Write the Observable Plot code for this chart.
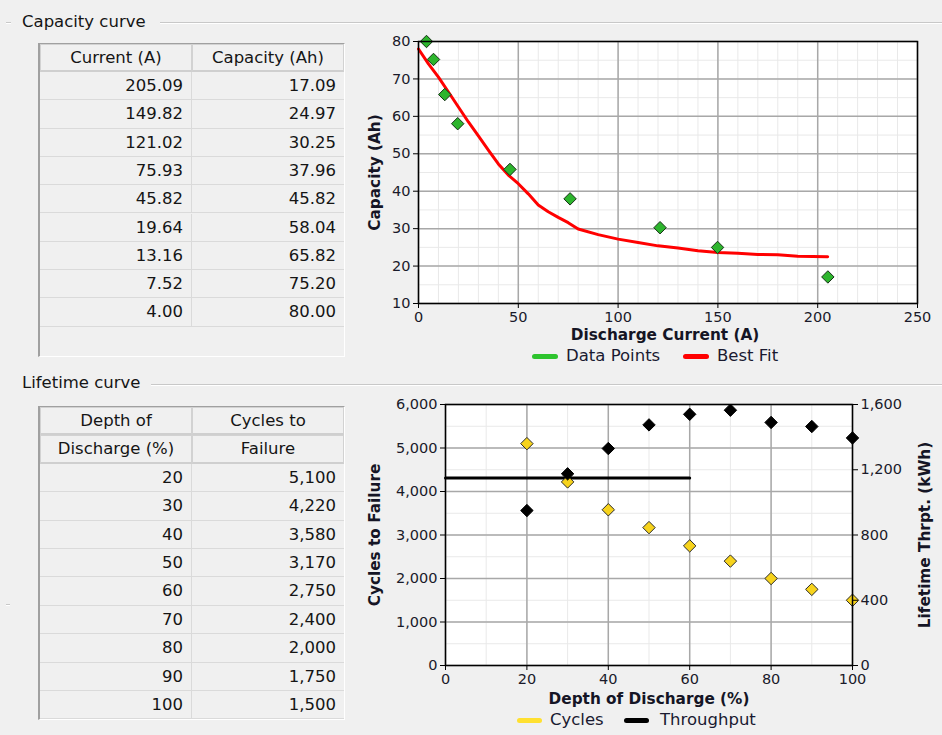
<!DOCTYPE html>
<html><head><meta charset="utf-8">
<script src="https://cdn.jsdelivr.net/npm/d3@7"></script>
<script src="https://cdn.jsdelivr.net/npm/@observablehq/plot@0.6"></script>
<style>
body{margin:0;background:#f0f0f0;}
#root{position:relative;width:942px;height:735px;overflow:hidden;font-family:"DejaVu Sans",sans-serif;color:#151515;}
.title{position:absolute;font-size:16.5px;line-height:20px;white-space:nowrap;}
.gline{position:absolute;height:0;border-top:1px solid #c8c8c8;border-bottom:1px solid #ffffff;}
.tbl{position:absolute;box-sizing:border-box;border-left:2px solid #a0a0a0;border-top:1px solid #a0a0a0;border-right:1px solid #ffffff;border-bottom:1px solid #ffffff;background:#f0f0f0;}
.cell{position:absolute;box-sizing:border-box;font-size:16.5px;white-space:nowrap;}
.hcell{text-align:center;border:1px solid #d2d2d2;border-bottom:2px solid #cfcfcf;background:#f0f0f0;}
.dcell{text-align:right;padding-right:8px;border-bottom:1px solid #dadada;}
.leg{position:absolute;font-size:16.5px;line-height:20px;white-space:nowrap;color:#1a1a30;}
.sw{position:absolute;height:5px;border-radius:3px;}
svg{position:absolute;overflow:visible;}
</style></head><body><div id="root"></div>
<script>
// ---- Capacity curve data ----
const currentA = [205.09, 149.82, 121.02, 75.93, 45.82, 19.64, 13.16, 7.52, 4.00];
const capacityAh = [17.09, 24.97, 30.25, 37.96, 45.82, 58.04, 65.82, 75.20, 80.00];
// best-fit curve
const fitCurrent = [0, 5, 10, 15, 20, 25, 30, 35, 40, 45, 50, 55, 60, 65, 70, 75, 80, 90, 100, 110, 120, 130, 140, 150, 160, 170, 180, 190, 205];
const fitCapacity = [78, 74, 70.5, 66.5, 62.5, 58.5, 54.8, 51, 47.3, 44.3, 42, 39.3, 36.3, 34.5, 33, 31.6, 29.9, 28.4, 27.2, 26.3, 25.4, 24.8, 24.1, 23.6, 23.4, 23.1, 23, 22.6, 22.5];
// ---- Lifetime curve data ----
const dodPct = [20, 30, 40, 50, 60, 70, 80, 90, 100];
const cyclesToFailure = [5100, 4220, 3580, 3170, 2750, 2400, 2000, 1750, 1500];
const throughputKWh = [950, 1175, 1330, 1475, 1540, 1565, 1490, 1465, 1395];
const refLineDod = [0, 60];
const refLineCycles = [4310, 4310];
// tick labels
const capXTicks = [0, 50, 100, 150, 200, 250];
const capYTicks = [10, 20, 30, 40, 50, 60, 70, 80];
const lifeXTicks = [0, 20, 40, 60, 80, 100];
const lifeYTicks = [0, 1000, 2000, 3000, 4000, 5000, 6000];
const lifeY2Ticks = [0, 400, 800, 1200, 1600];

const root = document.getElementById("root");
function el(cls, style, text) {
  const d = document.createElement("div");
  d.className = cls;
  Object.assign(d.style, style);
  if (text != null) d.textContent = text;
  root.appendChild(d);
  return d;
}

// group boxes
el("title", {left: "22px", top: "12px"}, "Capacity curve");
el("gline", {left: "160px", top: "22px", width: "782px"});
el("gline", {left: "6px", top: "22px", width: "5px"});
el("title", {left: "22px", top: "373px"}, "Lifetime curve");
el("gline", {left: "151px", top: "384px", width: "791px"});
el("gline", {left: "6px", top: "604px", width: "4px"});

// tables
function makeTable(left, top, height, headers, headRowH, col1, col2, rowH) {
  const t = el("tbl", {left: left + "px", top: top + "px", width: "307px", height: height + "px"});
  const w1 = 152, w2 = 152;
  headers.forEach((h, r) => {
    [h[0], h[1]].forEach((txt, c) => {
      const d = document.createElement("div");
      d.className = "cell hcell";
      Object.assign(d.style, {left: (c ? w1 : 0) + "px", top: (r * headRowH) + "px", width: (c ? w2 : w1) + "px", height: headRowH + "px", lineHeight: (headRowH - 3) + "px"});
      d.textContent = txt;
      t.appendChild(d);
    });
  });
  const y0 = headers.length * headRowH;
  col1.forEach((v, i) => {
    [v, col2[i]].forEach((txt, c) => {
      const d = document.createElement("div");
      d.className = "cell dcell";
      Object.assign(d.style, {left: (c ? w1 : 0) + "px", top: (y0 + i * rowH) + "px", width: (c ? w2 : w1) + "px", height: rowH + "px", lineHeight: (rowH - 1) + "px", borderRight: c ? "none" : "1px solid #dadada"});
      d.textContent = txt;
      t.appendChild(d);
    });
  });
}
const fmt2 = d3.format(".2f"), fmtC = d3.format(",");
makeTable(38, 43, 314, [["Current (A)", "Capacity (Ah)"]], 28, currentA.map(fmt2), capacityAh.map(fmt2), 28.3);
makeTable(38, 406, 314, [["Depth of", "Cycles to"], ["Discharge (%)", "Failure"]], 28.4, dodPct.map(String), cyclesToFailure.map(fmtC), 28.4);

const baseStyle = {background: "transparent", fontFamily: "DejaVu Sans", fontSize: "14.5px", color: "#1a1a2a", overflow: "visible"};
const minorC = "#e9e9e9", majorC = "#a8a8a8";
const labelOpts = {text: d => d, fontWeight: "bold", fontSize: 15.3, fill: "#151525", textAnchor: "middle", lineAnchor: "middle"};

// chart 1
const capData = currentA.map((c, i) => ({current: c, capacity: capacityAh[i]}));
const fitData = fitCurrent.map((c, i) => ({current: c, capacity: fitCapacity[i]}));
const c1 = Plot.plot({
  width: 580, height: 320, marginLeft: 58, marginRight: 23, marginTop: 13, marginBottom: 45,
  style: baseStyle,
  x: {domain: [0, 250]},
  y: {domain: [10, 80]},
  marks: [
    Plot.frame({fill: "white", stroke: null}),
    Plot.gridX(d3.range(0, 251, 10), {stroke: minorC, strokeOpacity: 1}),
    Plot.gridY(d3.range(10, 81, 5), {stroke: minorC, strokeOpacity: 1}),
    Plot.gridX(capXTicks, {stroke: majorC, strokeOpacity: 1, strokeWidth: 1.5}),
    Plot.gridY(capYTicks, {stroke: majorC, strokeOpacity: 1, strokeWidth: 1.5}),
    Plot.line(fitData, {x: "current", y: "capacity", stroke: "#ff0000", strokeWidth: 3}),
    Plot.dot(capData, {x: "current", y: "capacity", symbol: "diamond2", r: 5.6, fill: "#2db52d", stroke: "#163016", strokeWidth: 1}),
    Plot.frame({stroke: "black", strokeWidth: 1.5}),
    Plot.axisX(capXTicks, {tickSize: 5, tickPadding: 3, label: null, stroke: "black"}),
    Plot.axisY(capYTicks, {tickSize: 5, tickPadding: 3, label: null, stroke: "black"}),
    Plot.text(["Discharge Current (A)"], {...labelOpts, frameAnchor: "bottom", dy: 32, dx: -3}),
    Plot.text(["Capacity (Ah)"], {...labelOpts, frameAnchor: "left", rotate: -90, dx: -43})
  ]
});
Object.assign(c1.style, {left: "360px", top: "28px"});
root.appendChild(c1);

// chart 2
const k = 6000 / 1600;
const lifeData = dodPct.map((d, i) => ({dod: d, cycles: cyclesToFailure[i], thr: throughputKWh[i]}));
const refData = refLineDod.map((d, i) => ({dod: d, cycles: refLineCycles[i]}));
const c2 = Plot.plot({
  width: 580, height: 320, marginLeft: 85, marginRight: 88, marginTop: 12, marginBottom: 47,
  style: baseStyle,
  x: {domain: [0, 100]},
  y: {domain: [0, 6000]},
  marks: [
    Plot.frame({fill: "white", stroke: null}),
    Plot.gridX(d3.range(0, 101, 10), {stroke: minorC, strokeOpacity: 1}),
    Plot.gridY(d3.range(0, 6001, 500), {stroke: minorC, strokeOpacity: 1}),
    Plot.gridX(lifeXTicks, {stroke: majorC, strokeOpacity: 1, strokeWidth: 1.5}),
    Plot.gridY(lifeYTicks, {stroke: majorC, strokeOpacity: 1, strokeWidth: 1.5}),
    Plot.line(refData, {x: "dod", y: "cycles", stroke: "black", strokeWidth: 3}),
    Plot.dot(lifeData, {x: "dod", y: "cycles", symbol: "diamond2", r: 5.6, fill: "#f7d31c", stroke: "#2a2a2a", strokeWidth: 1}),
    Plot.dot(lifeData, {x: "dod", y: d => d.thr * k, symbol: "diamond2", r: 5.6, fill: "black", stroke: "black", strokeWidth: 1}),
    Plot.frame({stroke: "black", strokeWidth: 1.5}),
    Plot.axisX(lifeXTicks, {tickSize: 5, tickPadding: 3, label: null, stroke: "black"}),
    Plot.axisY(lifeYTicks, {tickSize: 5, tickPadding: 3, label: null, stroke: "black", tickFormat: fmtC}),
    Plot.axisY(lifeY2Ticks.map(v => v * k), {anchor: "right", tickSize: 5, tickPadding: 3, label: null, stroke: "black", tickFormat: v => fmtC(Math.round(v / k))}),
    Plot.text(["Depth of Discharge (%)"], {...labelOpts, frameAnchor: "bottom", dy: 34}),
    Plot.text(["Cycles to Failure"], {...labelOpts, frameAnchor: "left", rotate: -90, dx: -70}),
    Plot.text(["Lifetime Thrpt. (kWh)"], {...labelOpts, frameAnchor: "right", rotate: -90, dx: 73})
  ]
});
Object.assign(c2.style, {left: "360px", top: "392px"});
root.appendChild(c2);

// legends
el("sw", {left: "532px", top: "354px", width: "26px", background: "#2ec42e"});
el("leg", {left: "566px", top: "346px"}, "Data Points");
el("sw", {left: "683px", top: "354px", width: "26px", background: "#ff0000"});
el("leg", {left: "717px", top: "346px"}, "Best Fit");
el("sw", {left: "517px", top: "718px", width: "25px", background: "#ffe030"});
el("leg", {left: "550px", top: "710px"}, "Cycles");
el("sw", {left: "624px", top: "718px", width: "25px", background: "#000000"});
el("leg", {left: "660px", top: "710px"}, "Throughput");
</script></body></html>
